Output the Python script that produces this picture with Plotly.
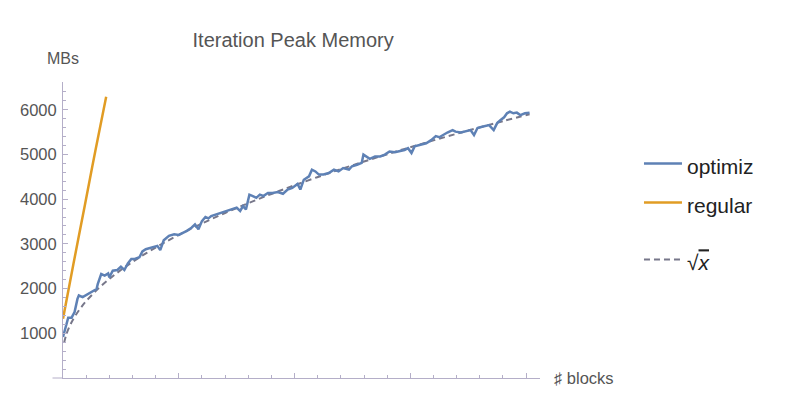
import plotly.graph_objects as go

# blocks (x) and peak memory in MB (y)
optimiz_x = [0, 2, 4.5, 7.4, 10, 12.5, 13.7, 17, 21.6, 26, 29, 30, 33, 36, 39, 40, 43, 47, 50, 53,
             56, 59, 61.5, 66, 68.6, 71.5, 77, 81.5, 84, 87, 91.5, 96, 100, 104, 107, 111, 114, 117,
             120, 123, 125.6, 128, 133, 137, 141, 145.5, 150, 153, 155.5, 158, 161, 164, 167, 170,
             173, 177, 181, 185.5, 190, 194, 198, 202.6, 205, 208, 212.5, 215, 218, 221, 225, 229.6,
             234, 238, 242, 247, 249.6, 254, 258, 259.5, 262, 265, 269.5, 274, 278, 282, 286.6, 291,
             295, 298, 301, 303.7, 308, 313.7, 318, 322, 325, 328, 332, 336.5, 339, 343.6, 348, 352,
             355, 358, 362, 365, 368, 372, 375, 378, 381, 383.5, 386, 389, 392, 395, 399, 403]
optimiz_y = [917, 1140, 1350, 1350, 1475, 1770, 1845, 1807, 1880, 1955, 1990, 2100, 2325, 2290, 2340,
             2250, 2400, 2415, 2490, 2415, 2560, 2660, 2660, 2700, 2830, 2880, 2920, 2955, 2860, 3080,
             3180, 3215, 3200, 3250, 3290, 3360, 3435, 3325, 3510, 3600, 3570, 3620, 3660, 3695, 3735,
             3770, 3810, 3735, 3845, 3770, 4100, 4070, 4030, 4100, 4070, 4140, 4140, 4160, 4120, 4215,
             4250, 4340, 4215, 4435, 4510, 4660, 4620, 4550, 4550, 4585, 4660, 4620, 4695, 4660, 4735,
             4770, 4810, 4995, 4955, 4900, 4955, 4955, 4995, 5065, 5050, 5080, 5100, 5140, 5030, 5180,
             5215, 5250, 5320, 5410, 5385, 5435, 5490, 5545, 5510, 5490, 5510, 5545, 5435, 5590, 5620,
             5635, 5655, 5545, 5700, 5770, 5830, 5920, 5955, 5920, 5935, 5880, 5920, 5935]

regular_x = [0, 9, 19, 28, 37.3]
regular_y = [1325, 2550, 3880, 5090, 6290]

sqrt_x = [1, 3, 6, 10, 15, 20, 30, 40, 50, 60, 80, 100, 120, 140, 160, 180, 200, 230, 260, 290,
          320, 350, 380, 403]
sqrt_y = [788, 984, 1176, 1367, 1558, 1719, 1988, 2215, 2415, 2596, 2917, 3200, 3456, 3691, 3910,
          4116, 4310, 4584, 4841, 5084, 5314, 5534, 5744, 5900]

y_ticks = [1000, 2000, 3000, 4000, 5000, 6000]

axis_col = "#b4aec8"
text_col = "#555555"


def lg(s):
    return "<span style='font-size:21px'>" + s + "</span>"


fig = go.Figure()
fig.add_trace(go.Scatter(x=sqrt_x, y=sqrt_y, mode="lines",
                         name=lg("√<span style='text-decoration:overline'><i>x</i></span>"),
                         line=dict(color="#77778a", width=2, dash="6px,4px", shape="spline"),
                         legendrank=3, legendgroup="b"))
fig.add_trace(go.Scatter(x=optimiz_x, y=optimiz_y, mode="lines", name=lg("optimiz"),
                         line=dict(color="#5e81b5", width=2.5), legendrank=1, legendgroup="a"))
fig.add_trace(go.Scatter(x=regular_x, y=regular_y, mode="lines", name=lg("regular"),
                         line=dict(color="#e19c24", width=2.5, shape="spline"), legendrank=2,
                         legendgroup="a"))

fig.update_xaxes(range=[0, 412], showgrid=False, zeroline=False, showline=True, linecolor=axis_col,
                 linewidth=1, ticks="inside", tickcolor=axis_col, ticklen=5, dtick=100, tick0=0,
                 showticklabels=False, minor=dict(ticks="inside", ticklen=3, dtick=20, tickcolor=axis_col))
fig.update_yaxes(range=[0, 6620], showgrid=False, zeroline=False, showline=True, linecolor=axis_col,
                 linewidth=1, ticks="inside", tickcolor=axis_col, ticklen=5, tickvals=y_ticks,
                 tickfont=dict(size=16.5, color=text_col), ticklabelstandoff=2,
                 minor=dict(ticks="inside", ticklen=3, dtick=200, tickcolor=axis_col))

# the page body adds 8px around the figure, so the figure is 8px smaller
fig.update_layout(
    width=792, height=410,
    margin=dict(l=50, r=260, t=74, b=40),
    paper_bgcolor="white", plot_bgcolor="white",
    font=dict(family="Liberation Sans, Arial, sans-serif", color=text_col),
    title=dict(text="Iteration Peak Memory", x=0.36, xanchor="center", y=0.922, yanchor="middle",
               font=dict(size=20, color=text_col)),
    legend=dict(x=1.2075, xanchor="left", y=0.8075, yanchor="top", font=dict(size=27.7, color="#222222"),
                tracegroupgap=18, traceorder="grouped", itemwidth=38, bgcolor="rgba(0,0,0,0)"),
    annotations=[
        dict(text="MBs", xref="paper", yref="paper", x=0.0, y=1.081, xanchor="center", yanchor="middle",
             showarrow=False, font=dict(size=16, color=text_col)),
        dict(text="♯ blocks", xref="paper", yref="paper", x=1.025, y=0.0, xanchor="left", yanchor="middle",
             showarrow=False, font=dict(size=16.5, color=text_col)),
    ],
    shapes=[
        dict(type="line", xref="paper", yref="paper", x0=-0.022, x1=0, y0=0, y1=0,
             line=dict(color=axis_col, width=1)),
    ],
)

fig.write_html("out.html")
